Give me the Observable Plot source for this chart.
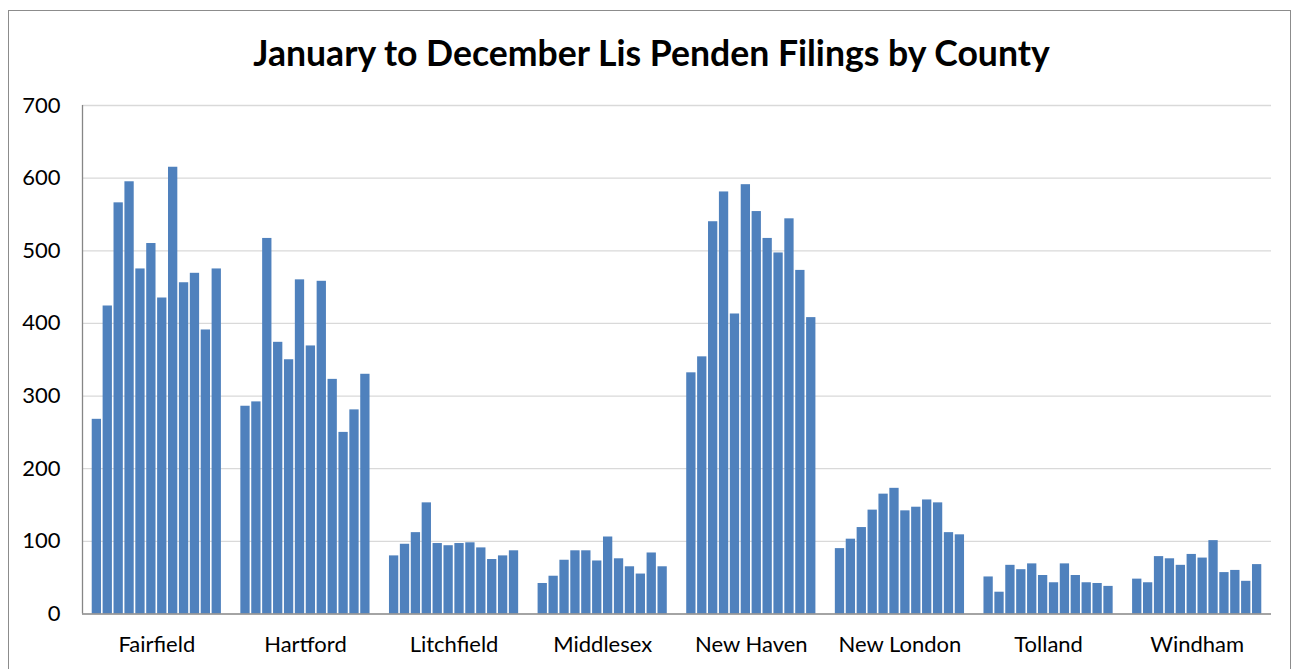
<!DOCTYPE html>
<html><head><meta charset="utf-8">
<script src="https://cdn.jsdelivr.net/npm/d3@7"></script>
<script src="https://cdn.jsdelivr.net/npm/@observablehq/plot@0.6"></script>
<style>
body{margin:0;background:#fff;font-family:Lato,sans-serif;}
#frame{position:absolute;left:8px;top:10px;width:1281px;height:700px;border:1px solid #8c8c8c;}
#title{position:absolute;left:3px;top:35px;width:1297px;text-align:center;font:bold 35.6px Lato,sans-serif;line-height:1;color:#000;}
#chart{position:absolute;left:0;top:90px;}
</style></head><body>
<div id="frame"></div>
<div id="title">January to December Lis Penden Filings by County</div>
<div id="chart"></div>
<script>
const counties = ["Fairfield","Hartford","Litchfield","Middlesex","New Haven","New London","Tolland","Windham"];
const months = ["Jan","Feb","Mar","Apr","May","Jun","Jul","Aug","Sep","Oct","Nov","Dec"];
const fairfield = [268,424,566,595,475,510,435,615,456,469,391,475];
const hartford = [286,292,517,374,350,460,369,458,323,250,281,330];
const litchfield = [80,96,112,153,97,94,97,98,91,75,80,87];
const middlesex = [42,52,74,87,87,73,106,76,65,55,84,65];
const newHaven = [332,354,540,581,413,591,554,517,497,544,473,408];
const newLondon = [90,103,119,143,165,173,142,147,157,153,112,109];
const tolland = [51,30,67,61,69,53,43,69,53,43,42,38];
const windham = [48,43,79,76,67,82,77,101,57,60,45,68];
const yTicks = [0,100,200,300,400,500,600,700];

const series = [fairfield,hartford,litchfield,middlesex,newHaven,newLondon,tolland,windham];
const groupPad = 0.06, step = 0.88 / months.length;
const rows = [];
series.forEach((vals, ci) => vals.forEach((v, mi) => rows.push({
  county: counties[ci], month: months[mi], value: v,
  x1: ci + groupPad + mi * step, x2: ci + groupPad + (mi + 1) * step
})));

const chart = Plot.plot({
  width: 1297, height: 579,
  marginLeft: 82, marginRight: 26, marginTop: 15, marginBottom: 55.5,
  x: {domain: [0, counties.length], axis: null},
  y: {domain: [0, 700], axis: null},
  style: {fontFamily: "Lato, sans-serif", fontSize: "22px", color: "#000", background: "transparent"},
  marks: [
    Plot.ruleY(yTicks.slice(1), {stroke: "#d9d9d9", strokeWidth: 1.3}),
    Plot.rectY(rows, {x1: "x1", x2: "x2", y: "value", fill: "#4f81bd", insetLeft: 0.8, insetRight: 0.8}),
    Plot.ruleY([0], {stroke: "#868686", strokeWidth: 1.3}),
    Plot.ruleX([0], {stroke: "#868686", strokeWidth: 1.3}),
    Plot.axisY(yTicks, {tickSize: 0, tickPadding: 22, fontSize: 22, label: null}),
    Plot.axisX(counties.map((c, i) => i + 0.5), {tickSize: 0, tickPadding: 22.5, fontSize: 22, label: null,
      tickFormat: d => counties[Math.floor(d)]})
  ]
});
document.getElementById("chart").appendChild(chart);
</script>
</body></html>
